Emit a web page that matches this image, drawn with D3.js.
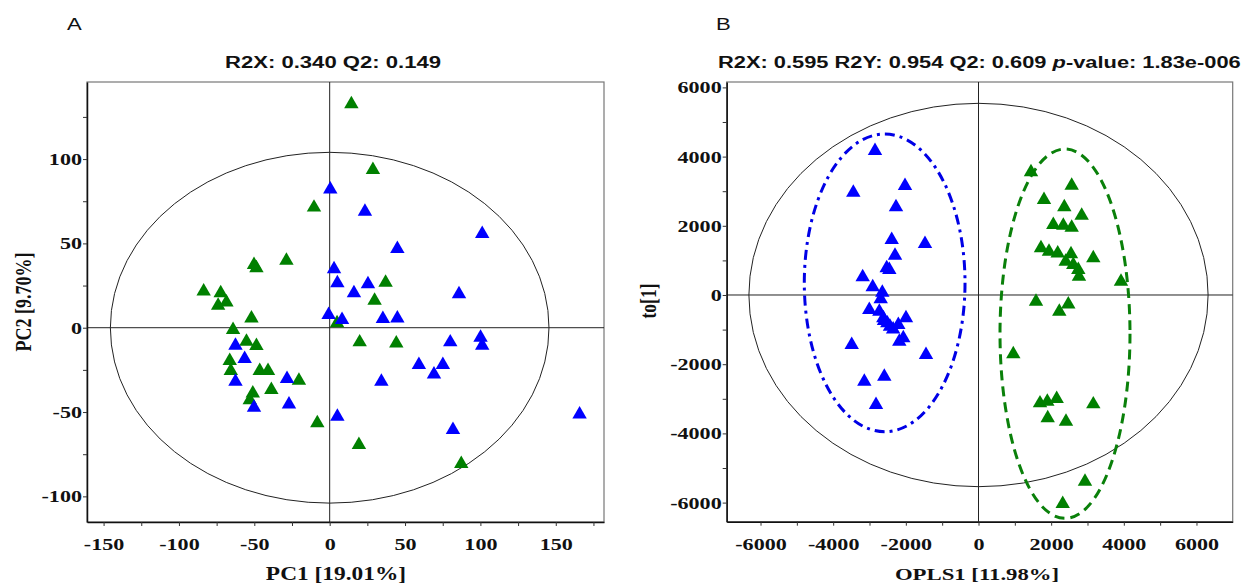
<!DOCTYPE html>
<html><head><meta charset="utf-8">
<script src="https://cdn.jsdelivr.net/npm/d3@7/dist/d3.min.js"></script>
<style>
body{margin:0;background:#fff;}
svg{display:block;}
.tick text{font-family:"Liberation Serif","Times New Roman",serif;font-weight:bold;font-size:17px;fill:#111;}
</style></head>
<body>
<svg id="chart" width="1247" height="586"></svg>
<script>
// ---------- Panel A data (PCA scores) ----------
const pcaGreenX = [-10.4,-50.2,-48.6,-28.7,-83.6,-72.3,-74,-68.5,-51.9,-64.1,-55.2,-48.6,-66.3,-65.6,-46.4,-40.9,-38.7,-51,-53,-20.4,-8.2,14.4,28.7,37.1,29.8,4.9,19.9,44.2,19.4,87.3];
const pcaGreenY = [72.2,38.2,36.2,40.7,22.4,21.4,14,16,6.5,-0.4,-7.3,-9.9,-18.8,-24.7,-24.7,-24.7,-36,-38,-42,-30.4,-55.7,133.5,94.5,27.7,17,3.6,-7.7,-8.3,-68.6,-79.8];
const pcaBlueX = [-62.5,-56.4,-62.5,-28.3,-27,-50.2,0.4,23.4,101.2,44.9,2.9,5.1,25.4,16.1,85.8,-0.7,8.2,35.3,44.9,80,100.1,101.2,59.2,75.1,69.2,34.3,5.1,81.8,165.8];
const pcaBlueY = [-9.7,-17.6,-31,-29.4,-44.5,-46.4,83,69.8,56.6,47.7,35.6,27.3,26.7,21.4,20.8,8.5,5.6,6.2,6.5,-7.7,-4.9,-9.7,-21.1,-21.1,-26.7,-31,-51.8,-59.7,-50.4];
const pcaXTicks = [-150,-125,-100,-75,-50,-25,0,25,50,75,100,125,150,175];
const pcaYTicks = [-100,-75,-50,-25,0,25,50,75,100,125];
const pcaEllipse = [0, 0, 145.5, 104]; // cx, cy, rx, ry (Hotelling T2)
const pcaTitle = "R2X: 0.340 Q2: 0.149";
const pcaXLabel = "PC1 [19.01%]";
const pcaYLabel = "PC2 [9.70%]";

// ---------- Panel B data (OPLS-DA scores) ----------
const oplsBlueX = [-2849,-3446,-2023,-2271,-1473,-2389,-2298,-2527,-2455,-3188,-2912,-2648,-2692,-3006,-2730,-2620,-2510,-2436,-1996,-2207,-2180,-2070,-3490,-1445,-3143,-2593,-2821,-2350,-2600];
const oplsBlueY = [4211,3006,3199,2581,1523,1639,1185,818,772,558,269,116,-78,-384,-434,-627,-772,-867,-627,-818,-1301,-1205,-1396,-1685,-2457,-2312,-3131,-950,-700];
const oplsGreenX = [1445,2565,1803,2362,2840,2059,2334,2565,1720,1940,2180,2546,2400,2609,2747,2766,3160,3922,1583,2472,2224,958,1693,1894,2152,3160,1905,2408,2931,2318];
const oplsGreenY = [3593,3208,2794,2581,2341,2072,2052,1994,1396,1301,1251,1223,1012,916,772,578,1107,434,-145,-223,-434,-1667,-3084,-3035,-2957,-3113,-3517,-3613,-5347,-5992];
const oplsXTicks = [-6000,-5000,-4000,-3000,-2000,-1000,0,1000,2000,3000,4000,5000,6000];
const oplsYTicks = [-6000,-5000,-4000,-3000,-2000,-1000,0,1000,2000,3000,4000,5000,6000];
const oplsEllipse = [0, 0, 6320, 5540];
const oplsBlueEllipse = [-2583, 351, 2212, 4302];
const oplsGreenEllipse = [2381, -1117, 1789, 5337];
const oplsTitleParts = ["R2X: 0.595 R2Y: 0.954 Q2: 0.609 ", "p", "-value: 1.83e-006"];
const oplsXLabel = "OPLS1 [11.98%]";
const oplsYLabel = "to[1]";

const GREEN = "#008000", BLUE = "#0000ff";
const SX = 1.3; // horizontal stretch of the source figure
const svg = d3.select("#chart");
const tri = d3.symbol().type(d3.symbolTriangle).size(90);

function panel(cfg){
  const x = d3.scaleLinear().domain(cfg.xd).range(cfg.xr);
  const y = d3.scaleLinear().domain(cfg.yd).range(cfg.yr);
  const g = svg.append("g");
  const [x0,x1] = cfg.xr, [y1,y0] = cfg.yr;
  g.append("rect").attr("x",x0).attr("y",y0).attr("width",x1-x0).attr("height",y1-y0)
    .attr("fill","none").attr("stroke","#777").attr("stroke-width",1.2);
  g.append("line").attr("x1",x0).attr("x2",x1).attr("y1",y(0)).attr("y2",y(0)).attr("stroke","#222").attr("stroke-width",1);
  g.append("line").attr("x1",x(0)).attr("x2",x(0)).attr("y1",y0).attr("y2",y1).attr("stroke","#222").attr("stroke-width",1);
  const e = cfg.ell;
  g.append("ellipse").attr("cx",x(e[0])).attr("cy",y(e[1]))
    .attr("rx",Math.abs(x(e[2])-x(0))).attr("ry",Math.abs(y(e[3])-y(0)))
    .attr("fill","none").attr("stroke","#222").attr("stroke-width",1);
  (cfg.extraEll||[]).forEach(o=>{
    const q=o.e;
    g.append("ellipse").attr("cx",x(q[0])).attr("cy",y(q[1]))
      .attr("rx",Math.abs(x(q[2])-x(0))).attr("ry",Math.abs(y(q[3])-y(0)))
      .attr("fill","none").attr("stroke",o.c).attr("stroke-width",3).attr("stroke-dasharray",o.dash);
  });
  const ax = g.append("g").attr("transform",`translate(0,${y1})`)
    .call(d3.axisBottom(x).tickValues(cfg.xt).tickSize(4).tickSizeOuter(0).tickFormat(d=>d%cfg.xl===0?String(d):""));
  ax.select(".domain").attr("stroke","#111").attr("stroke-width",1.5);
  ax.selectAll(".tick line").attr("stroke","#333");
  ax.selectAll(".tick text").attr("y",16).attr("transform",`scale(${SX},1)`);
  const ay = g.append("g").attr("transform",`translate(${x0},0)`)
    .call(d3.axisLeft(y).tickValues(cfg.yt).tickSize(4).tickSizeOuter(0).tickFormat(d=>d%cfg.yl===0?String(d):""));
  ay.select(".domain").attr("stroke","#111").attr("stroke-width",1.5);
  ay.selectAll(".tick line").attr("stroke","#333");
  ay.selectAll(".tick text").attr("x",-5/SX).attr("transform",`scale(${SX},1)`);
  cfg.series.forEach(s=>{
    g.selectAll(null).data(s.xs.map((v,i)=>[v,s.ys[i]])).enter().append("path")
      .attr("d",tri).attr("fill",s.c)
      .attr("transform",d=>`translate(${x(d[0])},${y(d[1])+1.5})`);
  });
  const lab = {"font-family":"Liberation Serif, Times New Roman, serif","font-weight":"bold","font-size":cfg.labSize,"fill":"#111"};
  const xl = g.append("text").attr("text-anchor","middle")
    .attr("transform",`translate(${cfg.xlPos[0]},${cfg.xlPos[1]}) scale(${SX},1)`).text(cfg.xlab);
  const yl = g.append("text").attr("text-anchor","middle")
    .attr("transform",`translate(${cfg.ylPos[0]},${cfg.ylPos[1]}) scale(${SX},1) rotate(-90)`).text(cfg.ylab);
  [xl,yl].forEach(t=>Object.entries(lab).forEach(([k,v])=>t.attr(k,v)));
  return g;
}

panel({xd:[-161,182], xr:[87,604], yd:[-115.2,145.7], yr:[522,82],
  xt:pcaXTicks, yt:pcaYTicks, xl:50, yl:50, ell:pcaEllipse,
  series:[{xs:pcaGreenX,ys:pcaGreenY,c:GREEN},{xs:pcaBlueX,ys:pcaBlueY,c:BLUE}],
  xlab:pcaXLabel, ylab:pcaYLabel, xlPos:[336,580], ylPos:[31,302], labSize:"18px"});

panel({xd:[-6931,6997], xr:[726.7,1232.7], yd:[-6552,6156], yr:[521.7,82],
  xt:oplsXTicks, yt:oplsYTicks, xl:2000, yl:2000, ell:oplsEllipse,
  extraEll:[{e:oplsBlueEllipse,c:"#0000e6",dash:"10 5 3 5"},{e:oplsGreenEllipse,c:"#0a800a",dash:"10 6"}],
  series:[{xs:oplsBlueX,ys:oplsBlueY,c:BLUE},{xs:oplsGreenX,ys:oplsGreenY,c:GREEN}],
  xlab:oplsXLabel, ylab:oplsYLabel, xlPos:[977,580], ylPos:[656,301], labSize:"17.5px"});

const sans = "Liberation Sans, Arial, sans-serif";
svg.append("text").attr("transform",`translate(67,30) scale(${SX},1)`).attr("font-family",sans).attr("font-size","17px").attr("fill","#111").text("A");
svg.append("text").attr("transform",`translate(716,30) scale(${SX},1)`).attr("font-family",sans).attr("font-size","17px").attr("fill","#111").text("B");
svg.append("text").attr("text-anchor","middle").attr("transform",`translate(333,68) scale(${SX},1)`)
  .attr("font-family",sans).attr("font-weight","bold").attr("font-size","17px").attr("fill","#111").text(pcaTitle);
const tb = svg.append("text").attr("transform",`translate(718,68) scale(1.285,1)`)
  .attr("font-family",sans).attr("font-weight","bold").attr("font-size","17px").attr("fill","#111");
tb.append("tspan").text(oplsTitleParts[0]);
tb.append("tspan").attr("font-style","italic").text(oplsTitleParts[1]);
tb.append("tspan").text(oplsTitleParts[2]);
</script>
</body></html>
